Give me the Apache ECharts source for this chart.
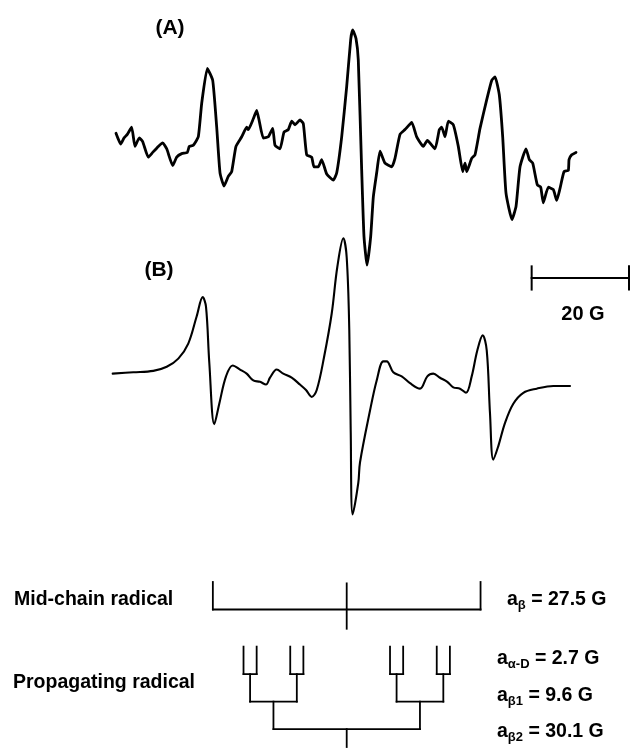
<!DOCTYPE html>
<html>
<head>
<meta charset="utf-8">
<title>EPR spectra</title>
<script src="https://cdn.jsdelivr.net/npm/echarts@6/dist/echarts.min.js"></script>
<style>
  html, body { margin: 0; padding: 0; background: #fff; }
  #chart { width: 631px; height: 748px; }
</style>
</head>
<body>
<div id="chart"></div>
<script>
// Magnetic field offsets (G, relative to spectrum centre) and signal (arb. units)
// (A) experimental spectrum
const fieldA = [-47.40, -46.44, -45.76, -45.08, -44.18, -43.50, -42.61, -41.92, -40.76, -39.86,
  -38.71, -37.81, -36.98, -35.75, -34.93, -33.90, -32.75, -32.34, -31.52, -30.49,
  -29.79, -28.64, -27.53, -26.71, -26.03, -25.21, -24.33, -23.63, -22.75, -21.57,
  -20.55, -20.22, -19.19, -18.49, -17.96, -17.14, -16.11, -15.20, -14.73, -13.70,
  -12.88, -12.00, -11.30, -10.62, -9.60, -8.92, -8.22, -7.19, -6.72, -5.84,
  -5.14, -4.11, -2.75, -2.05, -1.03, 0.00, 0.82, 1.23, 1.91, 2.38,
  3.08, 3.55, 4.17, 4.93, 5.47, 6.16, 6.84, 7.87, 9.25, 9.92,
  10.95, 11.98, 13.36, 14.38, 15.74, 16.56, 18.14, 19.03, 19.52, 20.20,
  20.88, 21.90, 22.93, 23.83, 24.31, 24.66, 25.68, 26.36, 27.39, 28.77,
  29.79, 30.47, 31.35, 32.05, 32.73, 33.96, 34.79, 35.61, 36.84, 37.52,
  38.22, 39.16, 39.86, 40.39, 41.42, 42.45, 43.15, 43.83, 44.65, 45.53,
  45.68, 46.23, 47.11];
const signalA = [0.14, 0.05, 0.10, 0.13, 0.19, 0.03, 0.10, 0.07, -0.06, -0.02,
  0.03, 0.06, 0.01, -0.13, -0.06, -0.03, -0.02, 0.03, 0.04, 0.11,
  0.39, 0.68, 0.58, 0.19, -0.19, -0.30, -0.22, -0.18, 0.03, 0.11,
  0.19, 0.17, 0.26, 0.33, 0.24, 0.10, 0.11, 0.18, 0.04, 0.01,
  0.15, 0.17, 0.24, 0.21, 0.25, 0.22, -0.04, -0.06, -0.14, -0.14,
  -0.08, -0.20, -0.25, -0.19, 0.11, 0.53, 0.92, 1.00, 0.93, 0.75,
  -0.17, -0.72, -0.96, -0.72, -0.39, -0.19, -0.01, -0.11, -0.14, -0.07,
  0.13, 0.17, 0.23, 0.11, 0.03, 0.08, 0.01, 0.17, 0.19, 0.11,
  0.24, 0.21, 0.03, -0.18, -0.11, -0.18, -0.07, -0.04, 0.18, 0.42,
  0.58, 0.61, 0.46, 0.11, -0.36, -0.58, -0.47, -0.14, 0.01, -0.08,
  -0.11, -0.29, -0.31, -0.44, -0.31, -0.33, -0.42, -0.32, -0.18, -0.17,
  -0.08, -0.04, -0.02];

// (B) simulated spectrum
const fieldB = [-48.08, -43.85, -39.74, -36.98, -34.60, -32.55, -30.82, -29.59, -28.91, -28.23,
  -27.20, -26.18, -24.80, -23.42, -21.92, -20.55, -19.19, -17.81, -16.58, -15.76,
  -14.38, -13.03, -11.30, -9.60, -8.36, -7.19, -6.16, -4.66, -3.08, -1.93,
  -0.70, 0.00, 0.53, 0.82, 1.23, 2.38, 2.73, 4.79, 6.16, 7.52,
  8.22, 9.57, 11.30, 13.01, 15.06, 16.56, 17.79, 19.17, 20.67, 21.90,
  23.28, 24.51, 25.68, 26.83, 27.94, 28.77, 29.44, 30.12, 31.15, 32.53,
  34.23, 36.29, 39.04, 42.45, 45.88];
const signalB = [0.01, 0.02, 0.03, 0.06, 0.12, 0.23, 0.43, 0.57, 0.50, 0.09,
  -0.36, -0.21, -0.01, 0.07, 0.04, 0.01, -0.04, -0.05, -0.07, -0.02,
  0.04, 0.01, -0.02, -0.07, -0.11, -0.16, -0.11, 0.13, 0.45, 0.79,
  1.00, 0.86, 0.33, -0.40, -1.02, -0.79, -0.64, -0.26, -0.04, 0.10,
  0.10, 0.02, -0.01, -0.06, -0.10, -0.01, 0.01, -0.02, -0.05, -0.09,
  -0.10, -0.13, -0.01, 0.18, 0.29, 0.18, -0.28, -0.62, -0.52, -0.35,
  -0.21, -0.13, -0.10, -0.08, -0.08];

// Hyperfine coupling constants (G)
const aBetaMid = 27.5;
const aAlphaD = 2.7;
const aBeta1 = 9.6;
const aBeta2 = 30.1;
const scaleBarG = 20;

const panelLabels = ['(A)', '(B)'];
const radicalNames = ['Mid-chain radical', 'Propagating radical'];

// ---------------------------------------------------------------
const FONT = '"Liberation Sans", Arial, Helvetica, sans-serif';
const zip = (xs, ys) => xs.map((x, i) => [x, ys[i]]);

// Stick diagrams: levels on an inverted axis (0 = top of the mid-chain bracket)
const sticks = [];
const seg = (x1, y1, x2, y2) => sticks.push([x1, y1, x2, y2]);
// mid-chain radical: 1:2:1 triplet from two equivalent beta protons
seg(-aBetaMid, 1, aBetaMid, 1);
seg(-aBetaMid, 0, -aBetaMid, 1);
seg(aBetaMid, 0, aBetaMid, 1);
seg(0, 0.05, 0, 1.7);
// propagating radical: beta2 -> beta1 -> alpha-D splitting tree
seg(0, 6, 0, 5.35);
seg(-aBeta2 / 2, 5.35, aBeta2 / 2, 5.35);
[-1, 1].forEach(s2 => {
  const c2 = s2 * aBeta2 / 2;
  seg(c2, 5.35, c2, 4.35);
  seg(c2 - aBeta1 / 2, 4.35, c2 + aBeta1 / 2, 4.35);
  [-1, 1].forEach(s1 => {
    const c1 = c2 + s1 * aBeta1 / 2;
    seg(c1, 4.35, c1, 3.35);
    seg(c1 - aAlphaD / 2, 3.35, c1 + aAlphaD / 2, 3.35);
    seg(c1 - aAlphaD / 2, 3.35, c1 - aAlphaD / 2, 2.35);
    seg(c1 + aAlphaD / 2, 3.35, c1 + aAlphaD / 2, 2.35);
  });
});

// Field scale bar, drawn in the (B) panel
const barStart = 38, barLevel = 0.71, barTick = 0.085;
const scaleBar = [
  [barStart, barLevel, barStart + scaleBarG, barLevel],
  [barStart, barLevel - barTick, barStart, barLevel + barTick],
  [barStart + scaleBarG, barLevel - barTick, barStart + scaleBarG, barLevel + barTick]
];

function segmentRenderer(width) {
  return function (params, api) {
    const p1 = api.coord([api.value(0), api.value(1)]);
    const p2 = api.coord([api.value(2), api.value(3)]);
    return {
      type: 'line',
      shape: { x1: p1[0], y1: p1[1], x2: p2[0], y2: p2[1] },
      style: { stroke: '#000', lineWidth: width, lineCap: 'square' }
    };
  };
}

const xRange = { min: -70, max: 58 };
const gridSide = { left: 6, right: 2 };
const xAxis = [0, 1, 2].map(i => ({
  type: 'value', gridIndex: i, min: xRange.min, max: xRange.max, show: false
}));

const TXT = 19.5;
const sub = { fontSize: 13, fontWeight: 'bold', fontFamily: FONT, lineHeight: 10, verticalAlign: 'bottom', fill: '#000' };
const main = { fontSize: TXT, fontWeight: 'bold', fontFamily: FONT, lineHeight: 24, fill: '#000' };
function label(x, y, text, align, size, rich) {
  return {
    type: 'text', x: x, y: y, silent: true,
    style: {
      text: text, fill: '#000',
      font: 'bold ' + size + 'px ' + FONT,
      align: align, textAlign: align,
      verticalAlign: 'middle', textVerticalAlign: 'middle',
      rich: rich
    }
  };
}
const richSet = { m: main, s: sub };

const option = {
  backgroundColor: '#fff',
  animation: false,
  grid: [
    Object.assign({ top: 18, height: 264 }, gridSide),
    Object.assign({ top: 211, height: 328 }, gridSide),
    Object.assign({ top: 582, height: 165 }, gridSide)
  ],
  xAxis: xAxis,
  yAxis: [
    { type: 'value', gridIndex: 0, min: -1.1, max: 1.1, show: false },
    { type: 'value', gridIndex: 1, min: -1.2, max: 1.2, show: false },
    { type: 'value', gridIndex: 2, min: 0, max: 6, inverse: true, show: false }
  ],
  series: [
    {
      name: 'A', type: 'line', xAxisIndex: 0, yAxisIndex: 0,
      data: zip(fieldA, signalA), showSymbol: false, smooth: 0.15,
      lineStyle: { color: '#000', width: 2.8, join: 'round', cap: 'round' }
    },
    {
      name: 'B', type: 'line', xAxisIndex: 1, yAxisIndex: 1,
      data: zip(fieldB, signalB), showSymbol: false, smooth: 0.35,
      lineStyle: { color: '#000', width: 2.1, join: 'round', cap: 'round' }
    },
    {
      name: 'scale', type: 'custom', xAxisIndex: 1, yAxisIndex: 1,
      dimensions: ['x1', 'y1', 'x2', 'y2'], encode: { x: [0, 2], y: [1, 3] },
      data: scaleBar, renderItem: segmentRenderer(2), clip: false, silent: true
    },
    {
      name: 'sticks', type: 'custom', xAxisIndex: 2, yAxisIndex: 2,
      dimensions: ['x1', 'y1', 'x2', 'y2'], encode: { x: [0, 2], y: [1, 3] },
      data: sticks, renderItem: segmentRenderer(1.8), clip: false, silent: true
    }
  ],
  graphic: [
    label(170, 28, panelLabels[0], 'center', 21),
    label(159, 270, panelLabels[1], 'center', 21),
    label(583, 314, scaleBarG + ' G', 'center', 20),
    label(14, 600, radicalNames[0], 'left', TXT),
    label(13, 683, radicalNames[1], 'left', TXT),
    label(507, 600, '{m|a}{s|β}{m| = ' + aBetaMid + ' G}', 'left', TXT, richSet),
    label(497, 659, '{m|a}{s|α-D}{m| = ' + aAlphaD + ' G}', 'left', TXT, richSet),
    label(497, 696, '{m|a}{s|β1}{m| = ' + aBeta1 + ' G}', 'left', TXT, richSet),
    label(497, 732, '{m|a}{s|β2}{m| = ' + aBeta2 + ' G}', 'left', TXT, richSet)
  ]
};

const chart = echarts.init(document.getElementById('chart'), null, { renderer: 'canvas' });
chart.setOption(option);
</script>
</body>
</html>
